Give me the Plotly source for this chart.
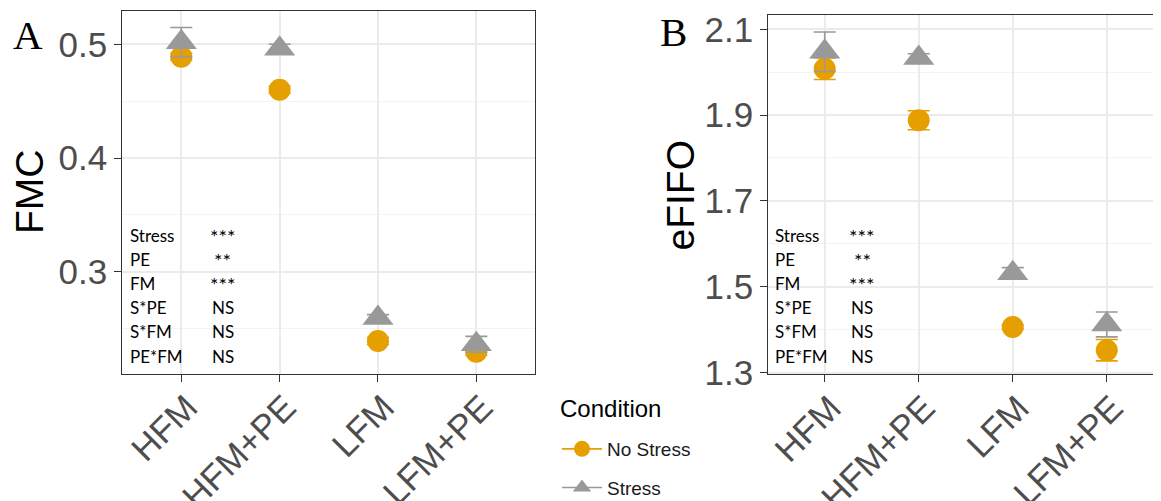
import plotly.graph_objects as go

# ---------------- data ----------------
CATEGORIES = ["HFM", "HFM+PE", "LFM", "LFM+PE"]

FMC_NOSTRESS = [0.489, 0.460, 0.239, 0.2296]
FMC_NOSTRESS_SE = [0.003, 0.003, 0.003, 0.003]
FMC_STRESS = [0.5018, 0.496, 0.2593, 0.2361]
FMC_STRESS_SE = [0.013, 0.004, 0.003, 0.007]

EFIFO_NOSTRESS = [2.008, 1.888, 1.406, 1.352]
EFIFO_NOSTRESS_SE = [0.025, 0.022, 0.005, 0.025]
EFIFO_STRESS = [2.0476, 2.033, 1.5315, 1.412]
EFIFO_STRESS_SE = [0.046, 0.010, 0.013, 0.029]

FMC_TICKS = [0.3, 0.4, 0.5]
FMC_TICKTEXT = ["0.3", "0.4", "0.5"]
FMC_MINOR = [0.25, 0.35, 0.45]
EFIFO_TICKS = [1.3, 1.5, 1.7, 1.9, 2.1]
EFIFO_TICKTEXT = ["1.3", "1.5", "1.7", "1.9", "2.1"]
EFIFO_MINOR = [1.4, 1.6, 1.8, 2.0]

STAT_TERMS = ["Stress", "PE", "FM", "S*PE", "S*FM", "PE*FM"]
STAT_SIG = ["***", "**", "***", "NS", "NS", "NS"]

GROUPS = ["No Stress", "Stress"]
LEGEND_TITLE = "Condition"

# ---------------- style ----------------
VIEW_W, VIEW_H = 1161, 501
OFF = 8  # default page body margin of the html page
W, H = VIEW_W - OFF, VIEW_H - OFF
ORANGE = "#E69F00"
GREY = "#999999"
TICK_FONT = dict(family="Liberation Sans, Arial", size=35, color="#4D4D4D")


def px(x):
    return (x - OFF) / W


def py(y):
    return 1 - (y - OFF) / H


fig = go.Figure()

panels = [
    ("x", "y", FMC_NOSTRESS, FMC_NOSTRESS_SE, FMC_STRESS, FMC_STRESS_SE),
    ("x2", "y2", EFIFO_NOSTRESS, EFIFO_NOSTRESS_SE, EFIFO_STRESS, EFIFO_STRESS_SE),
]
for xa, ya, ns, ns_se, st, st_se in panels:
    fig.add_trace(go.Scatter(
        x=CATEGORIES, y=ns, xaxis=xa, yaxis=ya, mode="markers",
        marker=dict(symbol="circle", size=22, color=ORANGE),
        error_y=dict(type="data", array=ns_se, color=ORANGE, thickness=1.6, width=11),
        showlegend=False, name=GROUPS[0]))
    fig.add_trace(go.Scatter(
        x=CATEGORIES, y=st, xaxis=xa, yaxis=ya, mode="markers",
        marker=dict(symbol="triangle-up", size=27, color=GREY),
        error_y=dict(type="data", array=st_se, color=GREY, thickness=1.6, width=11),
        showlegend=False, name=GROUPS[1]))

# legend-only entries
fig.add_trace(go.Scatter(x=[None], y=[None], mode="lines+markers", name=GROUPS[0],
                         marker=dict(symbol="circle", size=16, color=ORANGE),
                         line=dict(color=ORANGE, width=1.6), legendgroup="a"))
fig.add_trace(go.Scatter(x=[None], y=[None], mode="lines+markers", name=GROUPS[1],
                         marker=dict(symbol="triangle-up", size=16, color=GREY),
                         line=dict(color=GREY, width=1.6), legendgroup="b"))

common_x = dict(
    type="category", categoryorder="array", categoryarray=CATEGORIES,
    showgrid=True, gridcolor="#EBEBEB", gridwidth=1.6,
    showline=True, linecolor="#333333", linewidth=1.3,
    ticks="outside", ticklen=7, tickwidth=1.3, tickcolor="#333333",
    tickangle=-45, tickfont=TICK_FONT, zeroline=False, fixedrange=True,
    automargin=False, ticklabelstandoff=-9, ticklabelshift=6,
)
common_y = dict(
    showgrid=True, gridcolor="#EBEBEB", gridwidth=1.6,
    showline=True, linecolor="#333333", linewidth=1.3,
    ticks="outside", ticklen=7, tickwidth=1.3, tickcolor="#333333",
    tickfont=TICK_FONT, zeroline=False, tickmode="array", automargin=False,
)

fig.update_layout(
    width=W, height=H,
    margin=dict(l=0, r=0, t=0, b=0, pad=0, autoexpand=False),
    paper_bgcolor="white", plot_bgcolor="white",
    xaxis=dict(common_x, domain=[px(122.3), px(535.3)], range=[-0.6, 3.6],
               mirror=True, anchor="y"),
    yaxis=dict(common_y, domain=[py(373.7), py(11)], range=[0.2103, 0.5293],
               tickvals=FMC_TICKS, ticktext=FMC_TICKTEXT, mirror=True, anchor="x",
               minor=dict(tickvals=FMC_MINOR, showgrid=True, gridcolor="#F3F3F3",
                          gridwidth=0.9, ticks="")),
    xaxis2=dict(common_x, domain=[px(768.3), 1.0], range=[-0.6, 3.577],
                mirror=True, anchor="y2"),
    yaxis2=dict(common_y, domain=[py(374.3), py(15)], range=[1.2958, 2.1333],
                tickvals=EFIFO_TICKS, ticktext=EFIFO_TICKTEXT, mirror=False, anchor="x2",
                minor=dict(tickvals=EFIFO_MINOR, showgrid=True, gridcolor="#F3F3F3",
                           gridwidth=0.9, ticks="")),
    legend=dict(
        x=px(557), y=py(430), xanchor="left", yanchor="top",
        font=dict(family="Liberation Sans, Arial", size=19, color="#1A1A1A"),
        bgcolor="rgba(0,0,0,0)", borderwidth=0, tracegroupgap=11, itemwidth=40,
    ),
)

annotations = []


def ann(text, x, y, size, family, color="black", xanchor="center", angle=0):
    annotations.append(dict(text=text, x=px(x), y=py(y), xref="paper", yref="paper",
                            xanchor=xanchor, yanchor="middle", showarrow=False,
                            textangle=angle,
                            font=dict(family=family, size=size, color=color)))


SANS = "Liberation Sans, Arial"
SERIF = "Liberation Serif, Times New Roman"
ann("FMC", 29, 192, 39, SANS, angle=-90)
ann("eFIFO", 680, 194.5, 39, SANS, angle=-90)
ann("A", 28, 35, 41, SERIF)
ann("B", 673, 32, 41, SERIF)
ann(LEGEND_TITLE, 558, 408, 24, SANS, xanchor="left")

row_y = [235, 259, 283, 307, 331, 356]
for left, mid in [(127.5, 222.8), (773.3, 862.0)]:
    for term, sig, yy in zip(STAT_TERMS, STAT_SIG, row_y):
        ann(term, left, yy, 17, "Lato", xanchor="left")
        if "*" in sig:
            ann(sig, mid, yy + 1, 20, "Lato")
        else:
            ann(sig, mid, yy, 17, "Lato")
fig.update_layout(annotations=annotations)

fig.write_html("out.html")
